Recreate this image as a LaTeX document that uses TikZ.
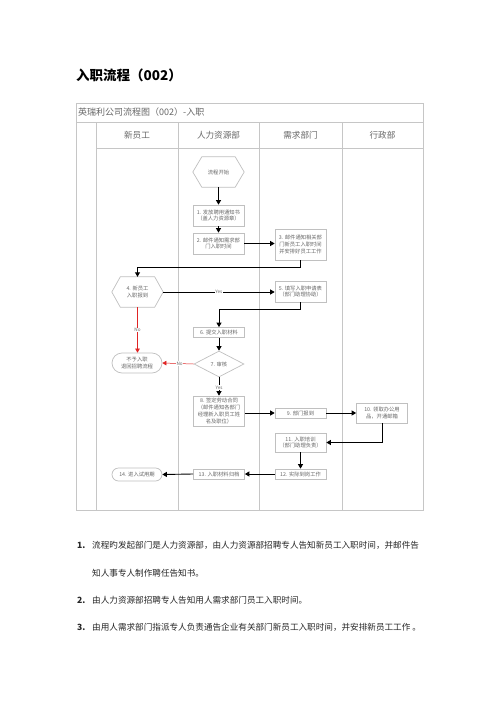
\documentclass[tikz,border=0pt]{standalone}
\usepackage{fontspec}
\setmainfont{Noto Sans CJK SC}
\usetikzlibrary{arrows.meta,shapes.geometric,shapes.misc}
\definecolor{frameC}{HTML}{C6C6C6}
\definecolor{boxC}{HTML}{C0C0C0}
\definecolor{txtC}{HTML}{666666}
\definecolor{noRed}{HTML}{E02424}
\begin{document}
\begin{tikzpicture}[x=1pt,y=-1pt,
  frameline/.style={draw=frameC, line width=0.8pt},
  box/.style={draw=boxC, line width=0.7pt, rectangle, inner sep=0pt, minimum width=51pt, text=txtC, font=\fontsize{5.3}{6.9}\selectfont, align=center},
  hexnode/.style={inner sep=0pt, minimum width=51pt, minimum height=30pt, text=txtC, font=\fontsize{5.3}{6.9}\selectfont, align=center},
  hexline/.style={draw=boxC, line width=0.7pt},
  term/.style={draw=boxC, line width=0.7pt, rounded rectangle, inner sep=0pt, minimum width=50pt, text=txtC, font=\fontsize{5.3}{6.9}\selectfont, align=center},
  dia/.style={draw=boxC, line width=0.7pt, diamond, aspect=1.92, inner sep=0pt, minimum width=50pt, minimum height=26pt, text=txtC, font=\fontsize{5.3}{6.9}\selectfont},
  flow/.style={draw=black, line width=0.9pt, -{Triangle[length=4.5pt,width=5pt]}},
  noflow/.style={draw=noRed, line width=0.5pt, -{Triangle[length=4pt,width=4.5pt]}},
  lbl/.style={font=\fontsize{4.6}{5}\selectfont, text=txtC, fill=white, inner sep=0.6pt},
  lane/.style={font=\fontsize{8.6}{10}\selectfont, text=txtC},
  para/.style={anchor=west, inner sep=0pt, font=\fontsize{8.6}{10}\selectfont, text=black!85},
  num/.style={anchor=west, inner sep=0pt, font=\fontsize{8.6}{10}\selectfont\bfseries, text=black!85}
]
\fill[white] (0,0) rectangle (500,707);
\useasboundingbox (0,0) rectangle (500,707);

% title
\node[anchor=west, inner sep=0pt, font=\fontsize{13.5}{15}\selectfont\bfseries] (title) at (76,75) {入职流程（002）};

% frame
\draw[frameline] (76,103) rectangle (423,510);
\draw[frameline] (76,122) -- (423,122);
\draw[frameline] (96,122) -- (96,510);
\draw[frameline] (96,148) -- (423,148);
\draw[frameline] (178,122) -- (178,510);
\draw[frameline] (259,122) -- (259,510);
\draw[frameline] (342,122) -- (342,510);
\node[anchor=west, inner sep=0pt, font=\fontsize{9}{10}\selectfont, text=txtC] (ftitle) at (78,112.5) {英瑞利公司流程图（002）-入职};
\node[lane] (l1) at (137,135) {新员工};
\node[lane] (l2) at (218.5,135) {人力资源部};
\node[lane] (l3) at (300.5,135) {需求部门};
\node[lane] (l4) at (382.5,135) {行政部};

% nodes
\node[hexnode] (s) at (218.5,172) {流程开始};
\draw[hexline] (s.west) -- ([xshift=9pt]s.north west) -- ([xshift=-9pt]s.north east) -- (s.east) -- ([xshift=-9pt]s.south east) -- ([xshift=9pt]s.south west) -- cycle;
\node[box, minimum height=21pt] (b1) at (218.5,215.5) {1. 发放聘用通知书\\（盖人力资源章）};
\node[box, minimum height=21pt] (b2) at (218.5,243.5) {2. 邮件通知需求部\\门入职时间};
\node[box, minimum height=31pt] (b3) at (300.5,244.5) {3. 邮件通知相关部\\门新员工入职时间\\并安排好员工工作};
\node[hexnode] (n4) at (137.5,292) {4. 新员工\\入职报到};
\draw[hexline] (n4.west) -- ([xshift=8.5pt]n4.north west) -- ([xshift=-8.5pt]n4.north east) -- (n4.east) -- ([xshift=-8.5pt]n4.south east) -- ([xshift=8.5pt]n4.south west) -- cycle;
\node[box, minimum height=21pt] (b5) at (300.5,291.5) {5. 填写入职申请表\\（部门助理协助）};
\node[box, minimum height=10pt] (b6) at (219,332.5) {6. 提交入职材料};
\node[dia] (d7) at (219,364) {7. 审核};
\node[term, minimum height=20pt] (t) at (137,363) {不予入职\\退回招聘流程};
\node[box, minimum height=30pt] (b8) at (219,411) {8. 签定劳动合同\\（邮件通知各部门\\经理新入职员工姓\\名及职位）};
\node[box, minimum height=10pt] (b9) at (300.5,413) {9. 部门报到};
\node[box, minimum height=20pt] (b10) at (382,413) {10. 领取办公用\\品，开通邮箱};
\node[box, minimum height=19pt] (b11) at (300.5,442.5) {11. 入职培训\\（部门助理负责）};
\node[box, minimum height=10pt] (b12) at (300.5,474) {12. 实际到岗工作};
\node[box, minimum height=10pt] (b13) at (219,474) {13. 入职材料归档};
\node[term, minimum height=13pt] (t14) at (137,474.5) {14. 进入试用期};

% connectors
\draw[flow] (s.south) -- (b1.north);
\draw[flow] (b1.south) -- (b2.north);
\draw[flow] (b2.east) -- (b2.east -| b3.west);
\draw[flow] (b3.south) -- ++(0,7) -| (n4.north);
\draw[flow] (n4.east) -- (n4.east -| b5.west) node[lbl, pos=0.5] (yes1) {Yes};
\draw[flow] (b5.south) -- ++(0,7) -| (b6.north);
\draw[flow] (b6.south) -- (d7.north);
\draw[noflow] (d7.west) -- (t.east) node[lbl, pos=0.45] (no2) {No};
\draw[noflow] (n4.south) -- (n4.south |- t.north) node[lbl, pos=0.5] (no1) {No};
\draw[flow] (d7.south) -- (b8.north) node[lbl, pos=0.55] (yes2) {Yes};
\draw[flow] (b8.east |- b9.west) -- (b9.west);
\draw[flow] (b9.east) -- (b9.east -| b10.west);
\draw[flow] (b10.south) |- (b11.east);
\draw[flow] (b11.south) -- (b12.north);
\draw[flow] (b12.west) -- (b13.east);
\draw[flow] (b13.west) -- (t14.east);

% notes
\node[num] (n1) at (77,545) {1.};
\node[para] (p1a) at (92,545) {流程旳发起部门是人力资源部，由人力资源部招聘专人告知新员工入职时间，并邮件告};
\node[para] (p1b) at (92,573) {知人事专人制作聘任告知书。};
\node[num] (n2) at (77,600) {2.};
\node[para] (p2) at (92,600) {由人力资源部招聘专人告知用人需求部门员工入职时间。};
\node[num] (n3) at (77,627) {3.};
\node[para] (p3) at (92,627) {由用人需求部门指派专人负责通告企业有关部门新员工入职时间，并安排新员工工作 。};
\end{tikzpicture}
\end{document}
